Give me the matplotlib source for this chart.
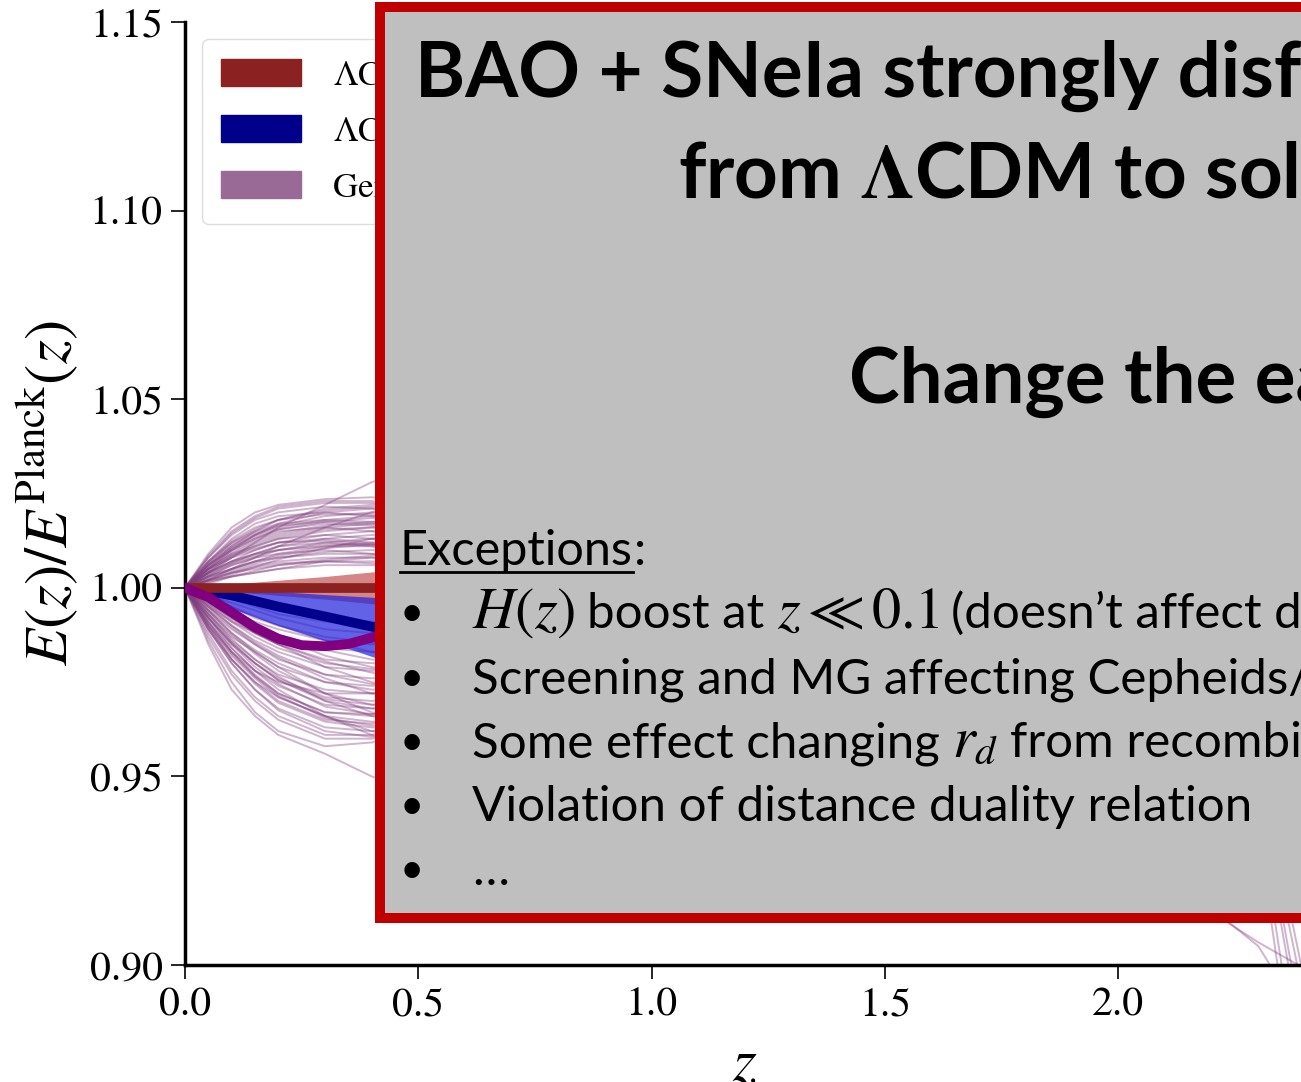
import matplotlib
matplotlib.use("Agg")
import matplotlib.pyplot as plt
from matplotlib.patches import Patch, Rectangle
from matplotlib.lines import Line2D

plt.rcParams["font.family"] = ["STIXGeneral"]
plt.rcParams["mathtext.fontset"] = "stix"

W, H = 1301, 1082

# redshift nodes for the generic reconstructions
z_nodes = [0.0, 0.05, 0.1, 0.15, 0.2, 0.3, 0.4, 0.5, 1.0, 2.0, 2.3, 2.4]

upper_curves = [
    [1.000, 1.009, 1.016, 1.020, 1.022, 1.0235, 1.024, 1.023, 1.010, 0.990, 0.975, 0.965],
    [1.000, 1.004, 1.008, 1.012, 1.016, 1.022, 1.028, 1.032, 1.030, 0.980, 0.960, 0.950],
    [1.000, 1.008, 1.014, 1.018, 1.020, 1.0215, 1.021, 1.019, 1.005, 0.985, 0.970, 0.960],
    [1.000, 1.007, 1.012, 1.015, 1.017, 1.018, 1.0175, 1.016, 1.000, 0.990, 0.980, 0.975],
    [1.000, 1.006, 1.011, 1.014, 1.016, 1.018, 1.019, 1.019, 1.012, 0.995, 0.985, 0.980],
    [1.000, 1.006, 1.010, 1.013, 1.015, 1.016, 1.015, 1.013, 1.000, 0.975, 0.955, 0.945],
    [1.000, 1.005, 1.009, 1.012, 1.014, 1.016, 1.017, 1.017, 1.010, 1.000, 0.990, 0.985],
    [1.000, 1.005, 1.009, 1.011, 1.013, 1.014, 1.013, 1.011, 0.998, 0.980, 0.965, 0.955],
    [1.000, 1.005, 1.008, 1.011, 1.013, 1.015, 1.016, 1.016, 1.008, 0.990, 0.975, 0.968],
    [1.000, 1.004, 1.008, 1.010, 1.012, 1.013, 1.012, 1.010, 0.995, 0.985, 0.975, 0.970],
    [1.000, 1.004, 1.007, 1.010, 1.012, 1.014, 1.015, 1.015, 1.006, 0.995, 0.988, 0.985],
    [1.000, 1.004, 1.007, 1.009, 1.011, 1.012, 1.011, 1.009, 0.996, 0.970, 0.950, 0.940],
    [1.000, 1.004, 1.007, 1.009, 1.010, 1.011, 1.011, 1.010, 1.000, 0.990, 0.982, 0.978],
    [1.000, 1.003, 1.006, 1.008, 1.010, 1.012, 1.013, 1.013, 1.005, 0.985, 0.970, 0.962],
    [1.000, 1.003, 1.006, 1.008, 1.009, 1.010, 1.009, 1.007, 0.995, 0.975, 0.958, 0.948],
    [1.000, 1.003, 1.005, 1.007, 1.008, 1.009, 1.009, 1.008, 1.000, 0.992, 0.985, 0.980],
    [1.000, 1.003, 1.005, 1.007, 1.009, 1.011, 1.012, 1.012, 1.006, 0.990, 0.978, 0.970],
    [1.000, 1.002, 1.004, 1.006, 1.007, 1.008, 1.008, 1.007, 0.998, 0.985, 0.975, 0.968],
    [1.000, 1.002, 1.004, 1.005, 1.006, 1.007, 1.007, 1.006, 1.000, 0.993, 0.987, 0.983],
    [1.000, 1.002, 1.003, 1.004, 1.005, 1.006, 1.006, 1.006, 1.002, 0.995, 0.990, 0.986],
    [1.000, 1.007, 1.013, 1.017, 1.019, 1.020, 1.019, 1.017, 1.002, 0.980, 0.962, 0.952],
    [1.000, 1.006, 1.011, 1.015, 1.018, 1.021, 1.022, 1.022, 1.015, 0.998, 0.985, 0.978],
    [1.000, 1.002, 1.005, 1.008, 1.011, 1.016, 1.020, 1.023, 1.025, 1.000, 0.985, 0.975],
    [1.000, 1.001, 1.003, 1.004, 1.005, 1.007, 1.008, 1.008, 1.004, 0.996, 0.990, 0.987],
    [1.000, 1.0085, 1.015, 1.019, 1.0215, 1.023, 1.023, 1.021, 1.005, 0.985, 0.968, 0.958],
    [1.000, 1.005, 1.010, 1.014, 1.017, 1.020, 1.021, 1.021, 1.012, 0.992, 0.975, 0.965],
    [1.000, 1.006, 1.0105, 1.0135, 1.0155, 1.017, 1.0165, 1.015, 1.003, 0.988, 0.975, 0.967],
    [1.000, 1.0045, 1.0085, 1.0115, 1.0135, 1.0155, 1.016, 1.0155, 1.007, 0.993, 0.982, 0.976],
    [1.000, 1.005, 1.0095, 1.0125, 1.0145, 1.0165, 1.0175, 1.0175, 1.010, 0.995, 0.985, 0.978],
    [1.000, 1.0055, 1.0105, 1.014, 1.0165, 1.019, 1.020, 1.0195, 1.008, 0.990, 0.976, 0.968],
    [1.000, 1.0035, 1.0065, 1.009, 1.011, 1.013, 1.014, 1.014, 1.006, 0.992, 0.983, 0.977],
    [1.000, 1.0035, 1.0065, 1.0085, 1.010, 1.0115, 1.0115, 1.0105, 1.000, 0.988, 0.978, 0.972],
    [1.000, 1.0025, 1.0045, 1.0065, 1.008, 1.0095, 1.010, 1.0095, 1.003, 0.993, 0.986, 0.981],
    [1.000, 1.0025, 1.0050, 1.007, 1.0085, 1.0105, 1.0115, 1.0115, 1.006, 0.994, 0.986, 0.980],
    [1.000, 1.0015, 1.003, 1.0045, 1.006, 1.0075, 1.0085, 1.009, 1.006, 0.997, 0.991, 0.987],
    [1.000, 1.007, 1.0125, 1.016, 1.018, 1.0195, 1.0195, 1.018, 1.004, 0.986, 0.972, 0.963],
    [1.000, 1.0065, 1.012, 1.0155, 1.018, 1.0205, 1.0215, 1.021, 1.011, 0.994, 0.980, 0.972],
    [1.000, 1.0045, 1.0085, 1.0105, 1.012, 1.0125, 1.0115, 1.0095, 0.996, 0.980, 0.968, 0.960],
    [1.000, 1.002, 1.004, 1.0055, 1.0065, 1.007, 1.0065, 1.0055, 0.999, 0.992, 0.987, 0.984],
    [1.000, 1.0055, 1.010, 1.013, 1.0155, 1.0175, 1.0185, 1.0185, 1.010, 0.994, 0.983, 0.976],
    [1.000, 1.008, 1.0145, 1.0185, 1.021, 1.0225, 1.0225, 1.021, 1.006, 0.988, 0.974, 0.965],
    [1.000, 1.0015, 1.0035, 1.0055, 1.0075, 1.0105, 1.013, 1.0145, 1.015, 1.000, 0.990, 0.984],
    [1.000, 1.0065, 1.0115, 1.0145, 1.0165, 1.0175, 1.017, 1.0155, 1.002, 0.986, 0.974, 0.966],
]

lower_curves = [
    [1.000, 0.985, 0.973, 0.966, 0.961, 0.956, 0.950, 0.946, 0.950, 0.970, 0.945, 0.875],
    [1.000, 0.986, 0.975, 0.967, 0.962, 0.958, 0.959, 0.962, 0.975, 0.985, 0.975, 0.970],
    [1.000, 0.988, 0.978, 0.971, 0.966, 0.961, 0.961, 0.964, 0.980, 0.970, 0.940, 0.860],
    [1.000, 0.989, 0.980, 0.973, 0.968, 0.963, 0.962, 0.963, 0.975, 0.990, 0.985, 0.980],
    [1.000, 0.990, 0.981, 0.975, 0.970, 0.965, 0.964, 0.966, 0.978, 0.975, 0.950, 0.890],
    [1.000, 0.991, 0.983, 0.977, 0.972, 0.967, 0.966, 0.967, 0.980, 0.985, 0.978, 0.972],
    [1.000, 0.991, 0.984, 0.978, 0.974, 0.969, 0.968, 0.969, 0.975, 0.965, 0.935, 0.850],
    [1.000, 0.992, 0.985, 0.980, 0.976, 0.971, 0.970, 0.971, 0.982, 0.992, 0.988, 0.985],
    [1.000, 0.993, 0.986, 0.981, 0.977, 0.973, 0.972, 0.973, 0.985, 0.970, 0.948, 0.880],
    [1.000, 0.993, 0.987, 0.983, 0.979, 0.975, 0.974, 0.975, 0.983, 0.990, 0.984, 0.980],
    [1.000, 0.994, 0.989, 0.985, 0.981, 0.977, 0.976, 0.977, 0.985, 0.975, 0.955, 0.895],
    [1.000, 0.995, 0.990, 0.986, 0.983, 0.979, 0.978, 0.979, 0.986, 0.993, 0.990, 0.987],
    [1.000, 0.995, 0.991, 0.988, 0.985, 0.981, 0.980, 0.981, 0.970, 0.930, 0.906, 0.899],
    [1.000, 0.996, 0.992, 0.989, 0.987, 0.984, 0.983, 0.983, 0.988, 0.995, 0.992, 0.990],
    [1.000, 0.997, 0.994, 0.991, 0.989, 0.986, 0.985, 0.985, 0.965, 0.935, 0.905, 0.885],
    [1.000, 0.998, 0.996, 0.994, 0.992, 0.989, 0.988, 0.988, 0.992, 0.998, 0.996, 0.994],
    [1.000, 0.989, 0.981, 0.975, 0.971, 0.966, 0.962, 0.960, 0.955, 0.965, 0.960, 0.955],
    [1.000, 0.992, 0.984, 0.978, 0.973, 0.966, 0.961, 0.958, 0.955, 0.975, 0.970, 0.965],
    [1.000, 0.994, 0.988, 0.983, 0.979, 0.972, 0.967, 0.964, 0.962, 0.980, 0.975, 0.970],
    [1.000, 0.996, 0.992, 0.988, 0.985, 0.979, 0.975, 0.972, 0.968, 0.985, 0.982, 0.978],
    [1.000, 0.990, 0.983, 0.978, 0.975, 0.972, 0.972, 0.974, 0.985, 0.995, 0.990, 0.985],
    [1.000, 0.997, 0.993, 0.990, 0.987, 0.982, 0.979, 0.977, 0.975, 0.990, 0.985, 0.982],
    [1.000, 0.999, 0.997, 0.995, 0.993, 0.991, 0.990, 0.990, 0.993, 0.998, 0.995, 0.993],
    [1.000, 0.998, 0.995, 0.992, 0.990, 0.986, 0.983, 0.981, 0.980, 0.992, 0.988, 0.984],
    [1.000, 0.987, 0.977, 0.970, 0.965, 0.960, 0.960, 0.962, 0.972, 0.982, 0.976, 0.970],
    [1.000, 0.990, 0.982, 0.976, 0.971, 0.966, 0.9645, 0.965, 0.975, 0.986, 0.980, 0.975],
    [1.000, 0.992, 0.9855, 0.980, 0.9755, 0.970, 0.968, 0.968, 0.977, 0.988, 0.983, 0.979],
    [1.000, 0.994, 0.988, 0.9835, 0.980, 0.975, 0.973, 0.973, 0.980, 0.990, 0.986, 0.982],
    [1.000, 0.9965, 0.993, 0.990, 0.9875, 0.9835, 0.981, 0.980, 0.982, 0.992, 0.988, 0.985],
    [1.000, 0.9955, 0.991, 0.987, 0.984, 0.980, 0.9785, 0.9785, 0.984, 0.992, 0.988, 0.984],
    [1.000, 0.995, 0.990, 0.9855, 0.982, 0.977, 0.9745, 0.974, 0.978, 0.990, 0.985, 0.981],
    [1.000, 0.9935, 0.9875, 0.9825, 0.978, 0.972, 0.969, 0.9685, 0.975, 0.987, 0.982, 0.978],
    [1.000, 0.9925, 0.9855, 0.980, 0.9755, 0.9705, 0.969, 0.970, 0.980, 0.990, 0.985, 0.981],
    [1.000, 0.991, 0.983, 0.9765, 0.9715, 0.9655, 0.9635, 0.964, 0.974, 0.984, 0.978, 0.973],
    [1.000, 0.989, 0.980, 0.973, 0.9675, 0.962, 0.9605, 0.9615, 0.973, 0.983, 0.977, 0.972],
    [1.000, 0.9975, 0.995, 0.9925, 0.990, 0.987, 0.9855, 0.985, 0.987, 0.995, 0.992, 0.990],
    [1.000, 0.9985, 0.997, 0.9955, 0.994, 0.992, 0.991, 0.9905, 0.992, 0.997, 0.995, 0.993],
    [1.000, 0.9945, 0.9895, 0.985, 0.9815, 0.976, 0.972, 0.9695, 0.966, 0.982, 0.978, 0.974],
    [1.000, 0.9905, 0.9825, 0.9765, 0.972, 0.967, 0.9665, 0.968, 0.979, 0.988, 0.983, 0.978],
    [1.000, 0.993, 0.9865, 0.981, 0.9765, 0.970, 0.966, 0.9635, 0.960, 0.976, 0.971, 0.966],
    [1.000, 0.9955, 0.9915, 0.988, 0.985, 0.9805, 0.9775, 0.976, 0.977, 0.989, 0.985, 0.981],
    [1.000, 0.9895, 0.981, 0.9745, 0.9695, 0.9645, 0.963, 0.9635, 0.974, 0.985, 0.979, 0.974],
    [1.000, 0.992, 0.985, 0.979, 0.9745, 0.9685, 0.9665, 0.9665, 0.975, 0.986, 0.981, 0.977],
]

# mean of the generic reconstructions
mean_z = [0.0, 0.05, 0.1, 0.15, 0.2, 0.25, 0.3, 0.35, 0.4, 0.5, 1.0, 2.0, 2.4]
mean_E = [1.000, 0.9975, 0.9935, 0.9895, 0.9865, 0.9848, 0.9845, 0.9851, 0.9868, 0.991, 1.000, 0.990, 0.985]

# LCDM fits
band_z = [0.0, 0.05, 0.1, 0.2, 0.3, 0.4, 0.5, 1.0, 2.0, 2.4]
planck_E = [1.0, 1.0, 1.0, 1.0, 1.0, 1.0, 1.0, 1.0, 1.0, 1.0]
planck_lo = [1.0, 0.9995, 0.999, 0.998, 0.997, 0.9958, 0.995, 0.992, 0.990, 0.990]
planck_hi = [1.0, 1.0005, 1.001, 1.002, 1.003, 1.0042, 1.005, 1.008, 1.010, 1.010]
desi_E = [1.0, 0.9991, 0.9980, 0.9950, 0.9924, 0.9897, 0.9870, 0.9780, 0.9750, 0.9750]
desi_lo = [1.0, 0.9975, 0.9945, 0.9900, 0.9860, 0.9818, 0.9780, 0.9650, 0.9620, 0.9620]
desi_hi = [1.0, 1.0, 0.9995, 0.9990, 0.9982, 0.9975, 0.9965, 0.9910, 0.9880, 0.9880]

legend_labels = [r"$\Lambda$CDM (Planck)", r"$\Lambda$CDM (DESI+SNe)", "Generic reconstructions"]
legend_colors = ["#8B2121", "#00008B", "#9A6A96"]

title_lines = ["BAO + SNeIa strongly disfavor deviations",
               r"from $\mathbf{\Lambda}$CDM to solve the Hubble tension",
               "Change the early universe"]
# each bullet: list of (text, fontsize) pieces, math pieces drawn larger
exception_items = [
    [(r"$H(z)$", 42), ("boost at", 35.5), (r"$z \ll 0.1$", 42), ("(doesn’t affect distances)", 35.5)],
    [("Screening and MG affecting Cepheids/SNeIa", 35.5)],
    [("Some effect changing", 35.5), (r"$r_d$", 42), ("from recombination", 35.5)],
    [("Violation of distance duality relation", 35.5)],
    [("…", 35.5)],
]

fig = plt.figure(figsize=(W / 100, H / 100), dpi=100)
ax = fig.add_axes([185 / W, 117 / H, 1120 / W, 943 / H])

for c in upper_curves + lower_curves:
    ax.plot(z_nodes, c, color="#803C7D", alpha=0.38, lw=1.4, zorder=1)

ax.fill_between(band_z, planck_lo, planck_hi, color="#B22222", alpha=0.55, lw=0, zorder=2)
ax.fill_between(band_z, desi_lo, desi_hi, color="#2020DD", alpha=0.7, lw=0, zorder=3)
ax.plot(band_z, desi_E, color="#00008B", lw=7, zorder=4)
ax.plot(band_z, planck_E, color="#8B2121", lw=7, zorder=5)
ax.plot(mean_z, mean_E, color="#800080", lw=7, zorder=6)

ax.set_xlim(0, 2.4)
ax.set_ylim(0.90, 1.15)
ax.set_xticks([0.0, 0.5, 1.0, 1.5, 2.0])
ax.set_yticks([0.90, 0.95, 1.00, 1.05, 1.10, 1.15])
ax.xaxis.set_major_formatter(matplotlib.ticker.FormatStrFormatter("%.1f"))
ax.yaxis.set_major_formatter(matplotlib.ticker.FormatStrFormatter("%.2f"))
ax.tick_params(direction="out", length=10, width=1.2, labelsize=30, pad=6)
for s in ["top", "right"]:
    ax.spines[s].set_visible(False)
for s in ["left", "bottom"]:
    ax.spines[s].set_linewidth(2.5)
ax.set_xlabel(r"$z$", fontsize=44, labelpad=10)
ax.set_ylabel(r"$E(z)/E^{\rm Planck}(z)$", fontsize=44, labelpad=7)

handles = [Patch(color=c) for c in legend_colors]
ax.legend(handles, legend_labels, loc="upper left", fontsize=25, handlelength=2.3,
          handleheight=0.8, handletextpad=0.9, labelspacing=0.65, borderpad=0.55,
          borderaxespad=0.5, framealpha=1, edgecolor="#DDDDDD")


# grey slide box on top of the plot
def fx(x):
    return x / W


def fy(y):
    return 1 - y / H


box = Rectangle((fx(380), fy(918)), fx(1500) - fx(380), fy(7) - fy(918),
                transform=fig.transFigure, facecolor="#BFBFBF", edgecolor="#C00000",
                lw=7.2, joinstyle="miter", zorder=10)
fig.add_artist(box)

title_x = [415, 678, 849]
title_y = [97, 197, 403]
for t, x, y in zip(title_lines, title_x, title_y):
    fig.text(fx(x), fy(y), t, family="Lato", weight="bold", fontsize=55,
             va="baseline", ha="left", zorder=11)

renderer = fig.canvas.get_renderer()

t_exc = fig.text(fx(400), fy(565), "Exceptions", family="Lato", fontsize=35,
                 va="baseline", ha="left", zorder=11)
bb = t_exc.get_window_extent(renderer)
fig.add_artist(Line2D([fx(bb.x0), fx(bb.x1)], [fy(572), fy(572)], transform=fig.transFigure,
                      color="black", lw=2, zorder=11))
fig.text(fx(bb.x1 + 1), fy(565), ":", family="Lato", fontsize=35, va="baseline",
         ha="left", zorder=11)

item_y = [628, 693, 757, 821, 885]
for pieces, y in zip(exception_items, item_y):
    fig.text(fx(400), fy(y - 2), "•", family="Lato", fontsize=30, va="baseline",
             ha="left", zorder=11)
    x = 472
    for t, size in pieces:
        txt = fig.text(fx(x), fy(y), t, family="Lato", fontsize=size, va="baseline",
                       ha="left", zorder=11)
        x = txt.get_window_extent(renderer).x1 + 12

fig.savefig("out.png", dpi=100)
